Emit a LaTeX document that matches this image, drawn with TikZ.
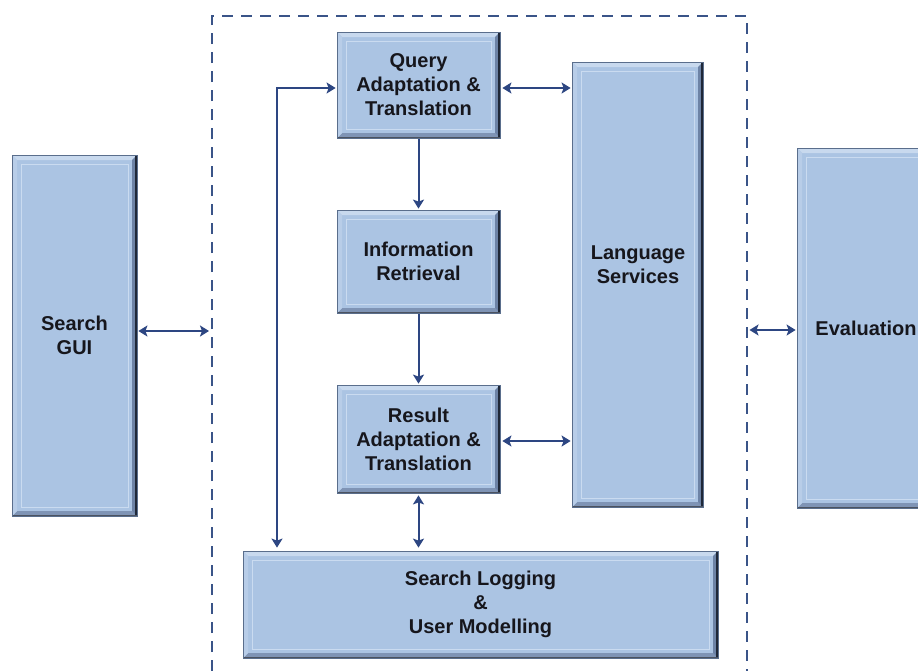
\documentclass[tikz,border=0pt]{standalone}
\usepackage{fontspec}
\setmainfont{Liberation Sans}
\usetikzlibrary{arrows.meta}

\definecolor{facecol}{HTML}{ABC4E3}
\definecolor{edgecol}{HTML}{5A6E8C}
\definecolor{bevtop}{HTML}{C8D9EE}
\definecolor{bevleft}{HTML}{B8CDE8}
\definecolor{bevright}{HTML}{6D83A6}
\definecolor{bevbottom}{HTML}{7F94B5}
\definecolor{darkedge}{HTML}{1F2838}
\definecolor{innerline}{HTML}{CADBF0}
\definecolor{conncol}{HTML}{2D4682}
\definecolor{framecol}{HTML}{3A5488}
\definecolor{txtcol}{HTML}{16161C}

\def\bw{5pt}

\begin{document}
\begin{tikzpicture}[x=1pt,y=-1pt,
  bevelbox/.style={
    draw=edgecol, line width=0.8pt, fill=facecol, inner sep=0pt,
    text=txtcol, align=center,
    font=\bfseries\fontsize{20}{24}\selectfont,
    path picture={
      \path (path picture bounding box.south west) coordinate (bsw)
            (path picture bounding box.north east) coordinate (bne)
            (bsw|-bne) coordinate (bnw)
            (bne|-bsw) coordinate (bse);
      % bevel faces
      \fill[bevtop] (bnw) -- (bne) -- ([shift={(-\bw,-\bw)}]bne) -- ([shift={(\bw,-\bw)}]bnw) -- cycle;
      \fill[bevbottom] (bsw) -- (bse) -- ([shift={(-\bw,\bw)}]bse) -- ([shift={(\bw,\bw)}]bsw) -- cycle;
      \fill[bevleft] (bnw) -- (bsw) -- ([shift={(\bw,\bw)}]bsw) -- ([shift={(\bw,-\bw)}]bnw) -- cycle;
      \fill[bevright] (bne) -- (bse) -- ([shift={(-\bw,\bw)}]bse) -- ([shift={(-\bw,-\bw)}]bne) -- cycle;
      % inner frame line
      \draw[innerline, line width=0.9pt] ([shift={(9pt,9pt)}]bsw) rectangle ([shift={(-9pt,-9pt)}]bne);
      % dark shadow edges on the right and bottom
      \draw[darkedge, line width=3pt] ([xshift=-1pt]bne) -- ([xshift=-1pt]bse);
      \draw[darkedge!80, line width=1.8pt] ([yshift=0.6pt]bsw) -- ([yshift=0.6pt]bse);
    }
  },
  btext/.style={text=txtcol, align=center, inner sep=0pt,
    font=\bfseries\fontsize{20}{24}\selectfont},
  conn/.style={draw=conncol, line width=2pt,
    arrows={Stealth[length=9pt,width=11pt,inset=2pt]-Stealth[length=9pt,width=11pt,inset=2pt]}},
  connone/.style={draw=conncol, line width=2pt,
    -{Stealth[length=9pt,width=11pt,inset=2pt]}},
  frameline/.style={draw=framecol, line width=2.2pt, dash pattern=on 11pt off 8pt}
]
\useasboundingbox (0,0) rectangle (918,670);
\clip (0,0) rectangle (918,670);
\fill[white] (0,0) rectangle (918,670);

% dashed frame around the core components (open at the bottom)
\draw[frameline] (212,690) -- (212,16) -- (747,16) -- (747,690);

% boxes
\node[bevelbox, minimum width=125pt, minimum height=361pt] (gui) at (74.5,335.5) {Search\\GUI};
\node[bevelbox, minimum width=163pt, minimum height=106pt] (query) at (418.5,85) {Query\\Adaptation \&\\Translation};
\node[bevelbox, minimum width=163pt, minimum height=103pt] (info) at (418.5,261.5) {Information\\Retrieval};
\node[bevelbox, minimum width=163pt, minimum height=108pt] (result) at (418.5,439) {Result\\Adaptation \&\\Translation};
\node[bevelbox, minimum width=475pt, minimum height=107pt] (logging) at (480.5,604.5) {Search Logging\\\&\\User Modelling};
\node[bevelbox, minimum width=131pt, minimum height=445pt] (lang) at (637.5,284.5) {};
\node[btext] (langtxt) at (638,265) {Language\\Services};
\node[bevelbox, minimum width=138pt, minimum height=360pt] (eval) at (866,328) {Evaluation};

% ports on the dashed frame
\coordinate (guiport) at (209,331);
\coordinate (evalport) at (749.5,330);
\coordinate (loopc) at (277,88);

% connectors
\draw[conn, shorten <=1pt] (gui.east |- guiport) -- (guiport);
\draw[conn, shorten >=1pt] (evalport) -- (evalport -| eval.west);
\draw[conn, shorten <=3pt, shorten >=1pt] (loopc |- logging.north) -- (loopc) -- (loopc -| query.west);
\draw[conn, shorten <=2pt, shorten >=1pt] ([yshift=-3pt]query.east) -- ([yshift=-3pt]query.east -| lang.west);
\draw[connone, shorten <=1pt, shorten >=1pt] (query.south) -- (info.north);
\draw[connone, shorten <=1pt, shorten >=1pt] (info.south) -- (result.north);
\draw[conn, shorten <=2pt, shorten >=1pt] ([yshift=-2pt]result.east) -- ([yshift=-2pt]result.east -| lang.west);
\draw[conn, shorten <=2pt, shorten >=3pt] (result.south) -- (result.south |- logging.north);
\end{tikzpicture}
\end{document}
